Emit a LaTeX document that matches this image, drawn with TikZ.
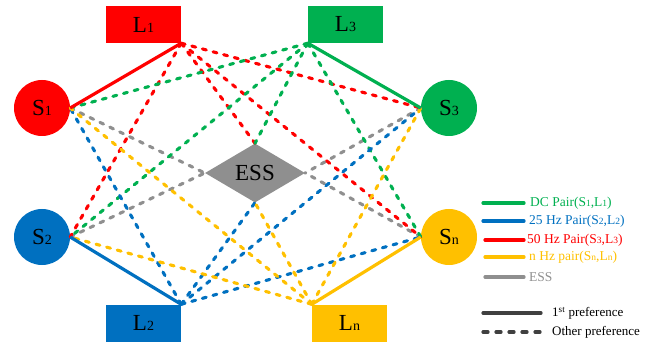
\documentclass[tikz,border=0pt]{standalone}
\usepackage{fontspec}
\setmainfont{Liberation Serif}
\usetikzlibrary{shapes.geometric}
\definecolor{cred}{HTML}{FF0000}
\definecolor{cgreen}{HTML}{00B050}
\definecolor{cblue}{HTML}{0070C0}
\definecolor{cyellow}{HTML}{FFC000}
\definecolor{cgray}{HTML}{8F8F8F}
\definecolor{cdark}{HTML}{404040}
\newcommand\subdig[2]{{\fontsize{#1}{#1}\selectfont #2}}
\tikzset{
  src/.style={circle, minimum size=56pt, inner sep=0pt, font=\fontsize{23}{26}\selectfont},
  load/.style={rectangle, minimum width=75pt, minimum height=37pt, inner sep=0pt, font=\fontsize{23}{26}\selectfont},
  pref/.style={line width=3.2pt},
  other/.style={line width=3.1pt, line cap=round, dash pattern=on 4pt off 7pt},
  legline/.style={line width=3.2pt, line cap=round},
  legtext/.style={anchor=west, inner sep=0pt, font=\fontsize{13.5}{15}\selectfont},
}
\begin{document}
\begin{tikzpicture}[x=1pt,y=-1pt]
\useasboundingbox (0,0) rectangle (652,344);
% nodes
\node[src, fill=cred]    (S1) at (42,108) {S\subdig{14}{1}};
\node[src, fill=cblue]   (S2) at (42,237) {S\subdig{14}{2}};
\node[src, fill=cgreen]  (S3) at (449,108) {S\subdig{14}{3}};
\node[src, fill=cyellow] (Sn) at (449,237) {S\subdig{14}{n}};
\node[load, fill=cred]    (L1) at (143.5,24.5) {L\subdig{14}{1}};
\node[load, fill=cgreen]  (L3) at (345.5,24.5) {L\subdig{14}{3}};
\node[load, fill=cblue]   (L2) at (143.5,323) {L\subdig{14}{2}};
\node[load, fill=cyellow] (Ln) at (349.5,323) {L\subdig{14}{n}};
\node[diamond, fill=cgray, aspect=1.7, inner sep=0pt, minimum width=100pt, minimum height=59pt, font=\fontsize{23}{26}\selectfont] (ESS) at (255,173) {ESS};
% gray dashed
\draw[other, cgray] (S1.east) -- (ESS.west);
\draw[other, cgray] (S2.east) -- (ESS.west);
\draw[other, cgray] (S3.west) -- (ESS.east);
\draw[other, cgray] (Sn.west) -- (ESS.east);
% red dashed
\draw[other, cred] (L1.south east) -- (S2.east);
\draw[other, cred] (L1.south east) -- (ESS.north);
\draw[other, cred] (L1.south east) -- (Sn.west);
\draw[other, cred] (L1.south east) -- (S3.west);
% green dashed
\draw[other, cgreen] (L3.south west) -- (S1.east);
\draw[other, cgreen] (L3.south west) -- (ESS.north);
\draw[other, cgreen] (L3.south west) -- (S2.east);
\draw[other, cgreen] (L3.south west) -- (Sn.west);
% blue dashed
\draw[other, cblue] (L2.north east) -- (S1.east);
\draw[other, cblue] (L2.north east) -- (ESS.south);
\draw[other, cblue] (L2.north east) -- (S3.west);
\draw[other, cblue] (L2.north east) -- (Sn.west);
% yellow dashed
\draw[other, cyellow] (Ln.north west) -- (S1.east);
\draw[other, cyellow] (Ln.north west) -- (ESS.south);
\draw[other, cyellow] (Ln.north west) -- (S2.east);
\draw[other, cyellow] (Ln.north west) -- (S3.west);
% solid first preference
\draw[pref, cred] (S1.east) -- (L1.south east);
\draw[pref, cgreen] (L3.south west) -- (S3.west);
\draw[pref, cblue] (S2.east) -- (L2.north east);
\draw[pref, cyellow] (Sn.west) -- (Ln.north west);
% legend
\coordinate (a1) at (483,203); \coordinate (b1) at (524,203);
\coordinate (a2) at (483,221); \coordinate (b2) at (524,221);
\coordinate (a3) at (485,240); \coordinate (b3) at (524,240);
\coordinate (a4) at (485,257); \coordinate (b4) at (524,257);
\coordinate (a5) at (485,277); \coordinate (b5) at (524,277);
\draw[legline, cgreen]  (a1) -- (b1);
\draw[legline, cblue]   (a2) -- (b2);
\draw[legline, cred]    (a3) -- (b3);
\draw[legline, cyellow] (a4) -- (b4);
\draw[legline, cgray]   (a5) -- (b5);
\node[legtext, text=cgreen]  (t1) at (530,203) {DC Pair(S\subdig{9.5}{1},L\subdig{9.5}{1})};
\node[legtext, text=cblue]   (t2) at (529,221) {25 Hz Pair(S\subdig{9.5}{2},L\subdig{9.5}{2})};
\node[legtext, text=cred]    (t3) at (527,240) {50 Hz Pair(S\subdig{9.5}{3},L\subdig{9.5}{3})};
\node[legtext, text=cyellow] (t4) at (529,257) {n Hz pair(S\subdig{9.5}{n},L\subdig{9.5}{n})};
\node[legtext, text=cgray]   (t5) at (529,277) {ESS};
\coordinate (p1) at (483,313); \coordinate (q1) at (541,313);
\coordinate (p2) at (483,332); \coordinate (q2) at (541,332);
\draw[line width=3.2pt, line cap=round, cdark] (p1) -- (q1);
\draw[line width=3.2pt, line cap=round, cdark, dash pattern=on 5pt off 8pt] (p2) -- (q2);
\node[legtext, text=black, font=\fontsize{13}{15}\selectfont] (t6) at (552,313) {1\textsuperscript{st} preference};
\node[legtext, text=black, font=\fontsize{13}{15}\selectfont] (t7) at (552,332) {Other preference};
\end{tikzpicture}
\end{document}
